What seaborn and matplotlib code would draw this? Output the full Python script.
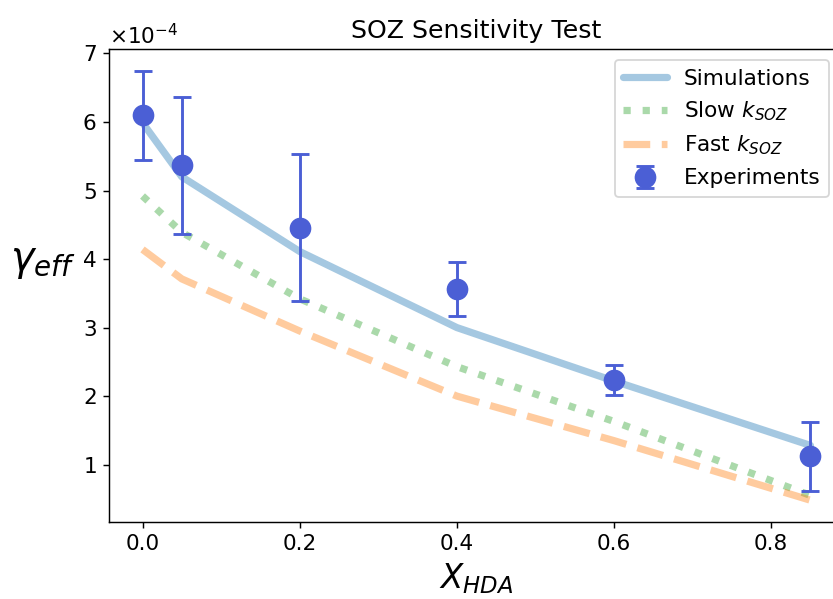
import numpy as np
import pandas as pd
import matplotlib
matplotlib.use("Agg")
import matplotlib.pyplot as plt
import seaborn as sns

# values, in units of 1e-4
x_hda = [0.0, 0.05, 0.2, 0.4, 0.6, 0.85]
sim_gamma = [5.99, 5.20, 4.11, 3.00, 2.22, 1.28]
slow_gamma = [4.92, 4.39, 3.42, 2.43, 1.63, 0.55]
fast_gamma = [4.14, 3.71, 2.95, 2.00, 1.35, 0.48]
exp_gamma = [6.10, 5.37, 4.46, 3.56, 2.24, 1.12]
exp_err = [0.65, 1.00, 1.07, 0.39, 0.22, 0.50]

scale = 1e-4

def main():
    sns.set_style("ticks", {"axes.edgecolor": "black", "text.color": "black",
                            "axes.labelcolor": "black", "xtick.color": "black",
                            "ytick.color": "black"})
    plt.rcParams['font.family'] = ['DejaVu Sans']
    plt.rcParams['mathtext.fontset'] = 'dejavusans'

    df = pd.DataFrame({
        'x': x_hda,
        'Simulations': np.array(sim_gamma) * scale,
        'Slow': np.array(slow_gamma) * scale,
        'Fast': np.array(fast_gamma) * scale,
    })

    # original looks like it was drawn at dpi 130
    fig, ax = plt.subplots(figsize=(833 / 130, 599 / 130), dpi=130)
    fig.subplots_adjust(left=0.131, right=1.013, top=0.918, bottom=0.129)

    sns.lineplot(data=df, x='x', y='Simulations', ax=ax, color='tab:blue', alpha=0.4,
                 lw=4, label='Simulations')
    sns.lineplot(data=df, x='x', y='Slow', ax=ax, color='tab:green', alpha=0.4,
                 lw=4, linestyle=':', label=r'Slow $k_{SOZ}$')
    sns.lineplot(data=df, x='x', y='Fast', ax=ax, color='tab:orange', alpha=0.4,
                 lw=4, linestyle='--', label=r'Fast $k_{SOZ}$')
    ax.errorbar(x_hda, np.array(exp_gamma) * scale, yerr=np.array(exp_err) * scale,
                fmt='o', color='#4b5fd5', markersize=11, elinewidth=1.6,
                capsize=5, capthick=1.6, label='Experiments')

    fmt = matplotlib.ticker.ScalarFormatter(useMathText=True)
    fmt.set_powerlimits((-3, 3))
    ax.yaxis.set_major_formatter(fmt)
    ax.yaxis.get_offset_text().set_fontsize(12)

    ax.set_title('SOZ Sensitivity Test', fontsize=14)
    ax.set_xlabel(r'$X_{HDA}$', fontsize=18)
    ax.set_ylabel(r'$\gamma_{eff}$', fontsize=22, rotation=0)
    ax.yaxis.set_label_coords(-0.09, 0.51)
    ax.tick_params(labelsize=12)
    ax.legend(loc='upper right', fontsize=12, bbox_to_anchor=(0.995, 1.0))

    fig.savefig('out.png', dpi=130)

if __name__ == "__main__":
    main()
